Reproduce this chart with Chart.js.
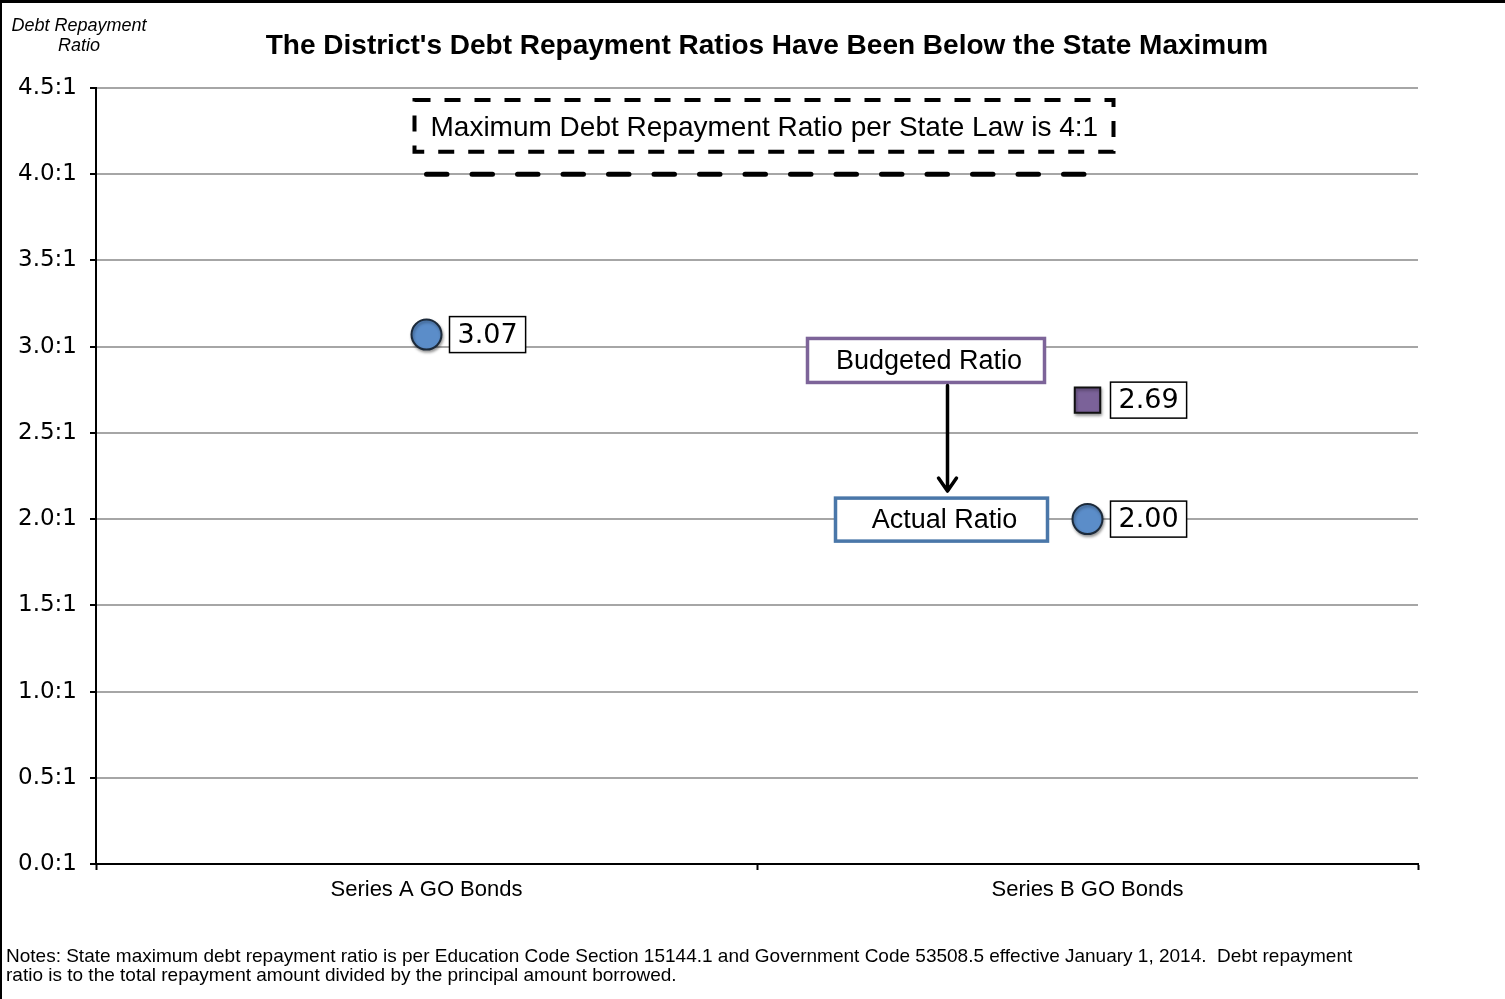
<!DOCTYPE html>
<html>
<head>
<meta charset="utf-8">
<title>Debt Repayment Ratios</title>
<script src="https://cdn.jsdelivr.net/npm/chart.js@4.4.1/dist/chart.umd.min.js"></script>
<style>
  html, body { margin: 0; padding: 0; background: #ffffff; }
  canvas { display: block; }
</style>
</head>
<body>
<canvas id="chart" width="1505" height="999"></canvas>
<script>
// Bond series shown on the category axis
const categories = ['Series A GO Bonds', 'Series B GO Bonds'];
// Actual debt repayment ratios (circles)
const actualRatios = [3.07, 2.00];
// Budgeted ratio (square), only reported for Series B
const budgetedRatios = [null, 2.69];
// State-law ceiling of 4:1 drawn as a dashed line across both series
const stateMaximum = [4.0, 4.0];
// Y-axis tick labels, from 0.0:1 up to 4.5:1
const yTickLabels = ['0.0:1', '0.5:1', '1.0:1', '1.5:1', '2.0:1', '2.5:1', '3.0:1', '3.5:1', '4.0:1', '4.5:1'];

const chartTitle = "The District's Debt Repayment Ratios Have Been Below the State Maximum";
const yAxisTitle = ['Debt Repayment', 'Ratio'];
const maxNote = 'Maximum Debt Repayment Ratio per State Law is 4:1';
const budgetedLabel = 'Budgeted Ratio';
const actualLabel = 'Actual Ratio';
const notesLines = [
  'Notes: State maximum debt repayment ratio is per Education Code Section 15144.1 and Government Code 53508.5 effective January 1, 2014.  Debt repayment',
  'ratio is to the total repayment amount divided by the principal amount borrowed.'
];

const TEXT_FONT = '"Liberation Sans", Arial, sans-serif';
const NUM_FONT = '"DejaVu Sans", sans-serif';

// White page background plus the frame along the top and left edges
const backgroundPlugin = {
  id: 'pageBackground',
  beforeDraw(chart) {
    const ctx = chart.ctx;
    ctx.save();
    ctx.fillStyle = '#ffffff';
    ctx.fillRect(0, 0, chart.width, chart.height);
    ctx.strokeStyle = '#000000';
    ctx.lineWidth = 3;
    ctx.beginPath();
    ctx.moveTo(0, 1.5);
    ctx.lineTo(chart.width, 1.5);
    ctx.stroke();
    ctx.lineWidth = 2;
    ctx.beginPath();
    ctx.moveTo(1, 0);
    ctx.lineTo(1, chart.height);
    ctx.stroke();
    ctx.restore();
  }
};

// Soft drop shadow under the marker datasets
const markerShadowPlugin = {
  id: 'markerShadow',
  beforeDatasetDraw(chart, args) {
    const ctx = chart.ctx;
    ctx.save();
    if (args.index < 2) {
      ctx.shadowColor = 'rgba(0,0,0,0.35)';
      ctx.shadowBlur = 3;
      ctx.shadowOffsetX = 1;
      ctx.shadowOffsetY = 2;
    }
  },
  afterDatasetDraw(chart) {
    chart.ctx.restore();
  }
};

function boxedText(ctx, text, left, cy, font, padX, h, borderColor, borderWidth) {
  ctx.font = font;
  const w = ctx.measureText(text).width + padX * 2;
  ctx.fillStyle = '#ffffff';
  ctx.fillRect(left, cy - h / 2, w, h);
  ctx.strokeStyle = borderColor;
  ctx.lineWidth = borderWidth;
  ctx.strokeRect(left, cy - h / 2, w, h);
  ctx.fillStyle = '#000000';
  ctx.textAlign = 'left';
  ctx.textBaseline = 'middle';
  ctx.fillText(text, left + padX, cy + 1);
  return w;
}

// Titles, notes, value labels and the callout boxes
const annotationPlugin = {
  id: 'chartAnnotations',
  afterDatasetsDraw(chart) {
    const ctx = chart.ctx;
    const xs = chart.scales.x;
    const ys = chart.scales.y;
    ctx.save();

    // value label beside each marker
    [0, 1].forEach(di => {
      const meta = chart.getDatasetMeta(di);
      const values = chart.data.datasets[di].data;
      meta.data.forEach((pt, i) => {
        if (values[i] === null || values[i] === undefined) return;
        boxedText(ctx, values[i].toFixed(2), pt.x + 23, pt.y, '27px ' + NUM_FONT, 8, 36, '#000000', 1.5);
      });
    });

    const xA = xs.getPixelForValue(0);
    const xB = xs.getPixelForValue(1);

    // dashed callout describing the state maximum
    const mTop = ys.getPixelForValue(4.43);
    const mBot = ys.getPixelForValue(4.13);
    const mLeft = xA - 12;
    const mRight = xB + 26;
    ctx.setLineDash([16, 14]);
    ctx.lineWidth = 4;
    ctx.strokeStyle = '#000000';
    ctx.strokeRect(mLeft, mTop, mRight - mLeft, mBot - mTop);
    ctx.setLineDash([]);
    ctx.font = '28px ' + TEXT_FONT;
    ctx.fillStyle = '#000000';
    ctx.textAlign = 'left';
    ctx.textBaseline = 'middle';
    ctx.fillText(maxNote, mLeft + 16, (mTop + mBot) / 2 + 2);

    // "Budgeted Ratio" callout
    const bRight = xB - 43, bLeft = xB - 280;
    const bCy = ys.getPixelForValue(2.92);
    ctx.fillStyle = '#ffffff';
    ctx.fillRect(bLeft, bCy - 22, bRight - bLeft, 44);
    ctx.strokeStyle = '#7d6499';
    ctx.lineWidth = 3.5;
    ctx.strokeRect(bLeft, bCy - 22, bRight - bLeft, 44);
    ctx.fillStyle = '#000000';
    ctx.textAlign = 'center';
    ctx.font = '27px ' + TEXT_FONT;
    ctx.fillText(budgetedLabel, (bLeft + bRight) / 2 + 3, bCy + 1);

    // "Actual Ratio" callout
    const aRight = xB - 40, aLeft = xB - 252;
    const aCy = ys.getPixelForValue(actualRatios[1]);
    ctx.fillStyle = '#ffffff';
    ctx.fillRect(aLeft, aCy - 21, aRight - aLeft, 43);
    ctx.strokeStyle = '#4a77a9';
    ctx.lineWidth = 3.5;
    ctx.strokeRect(aLeft, aCy - 21, aRight - aLeft, 43);
    ctx.fillStyle = '#000000';
    ctx.fillText(actualLabel, (aLeft + aRight) / 2 + 3, aCy + 1);

    // arrow from budgeted to actual
    const arX = xB - 140;
    const arTop = bCy + 25, arBot = aCy - 28;
    ctx.strokeStyle = '#000000';
    ctx.lineWidth = 3.5;
    ctx.lineCap = 'round';
    ctx.lineJoin = 'round';
    ctx.beginPath();
    ctx.moveTo(arX, arTop);
    ctx.lineTo(arX, arBot);
    ctx.moveTo(arX - 9, arBot - 13);
    ctx.lineTo(arX, arBot);
    ctx.lineTo(arX + 9, arBot - 13);
    ctx.stroke();

    // chart title
    ctx.fillStyle = '#000000';
    ctx.textAlign = 'center';
    ctx.textBaseline = 'middle';
    ctx.font = 'bold 28px ' + TEXT_FONT;
    ctx.fillText(chartTitle, 767, 46);

    // y-axis title
    ctx.font = 'italic 18px ' + TEXT_FONT;
    ctx.fillText(yAxisTitle[0], 79, 26);
    ctx.fillText(yAxisTitle[1], 79, 46);

    // notes
    ctx.textAlign = 'left';
    ctx.font = '19px ' + TEXT_FONT;
    ctx.fillText(notesLines[0], 6, 957);
    ctx.fillText(notesLines[1], 6, 976);

    ctx.restore();
  }
};

new Chart(document.getElementById('chart'), {
  type: 'line',
  data: {
    labels: categories,
    datasets: [
      {
        label: 'Actual Ratio',
        data: actualRatios,
        showLine: false,
        pointStyle: 'circle',
        pointRadius: 15,
        pointHoverRadius: 15,
        pointBorderWidth: 2,
        pointBackgroundColor: '#5b8dc9',
        pointBorderColor: '#1c2a3a'
      },
      {
        label: 'Budgeted Ratio',
        data: budgetedRatios,
        showLine: false,
        pointStyle: 'rect',
        pointRadius: 18,
        pointHoverRadius: 18,
        pointBorderWidth: 2,
        pointBackgroundColor: '#7b6299',
        pointBorderColor: '#111111'
      },
      {
        label: 'State Maximum',
        data: stateMaximum,
        borderColor: '#000000',
        borderWidth: 5,
        borderDash: [20.5, 25],
        borderCapStyle: 'round',
        pointRadius: 0,
        fill: false,
        tension: 0
      }
    ]
  },
  options: {
    responsive: false,
    animation: false,
    events: [],
    layout: { padding: { top: 88, right: 87, bottom: 0, left: 0 } },
    plugins: {
      legend: { display: false },
      tooltip: { enabled: false },
      title: { display: false }
    },
    scales: {
      x: {
        offset: true,
        grid: {
          offset: true,
          drawOnChartArea: false,
          drawTicks: true,
          tickLength: 6,
          tickWidth: 2,
          tickColor: '#000000'
        },
        border: { color: '#000000', width: 2 },
        ticks: {
          padding: 7,
          color: '#000000',
          font: { family: TEXT_FONT, size: 22 }
        },
        afterFit(scale) { scale.height = 135; }
      },
      y: {
        min: 0,
        max: 4.5,
        grid: {
          color: '#a6a6a6',
          lineWidth: 2,
          tickLength: 6,
          tickWidth: 2,
          tickColor: '#000000'
        },
        border: { color: '#000000', width: 2 },
        ticks: {
          stepSize: 0.5,
          padding: 13,
          color: '#000000',
          font: { family: NUM_FONT, size: 23 },
          callback: (value, index) => yTickLabels[index]
        },
        afterFit(scale) { scale.width = 96; }
      }
    }
  },
  plugins: [backgroundPlugin, markerShadowPlugin, annotationPlugin]
});
</script>
</body>
</html>
